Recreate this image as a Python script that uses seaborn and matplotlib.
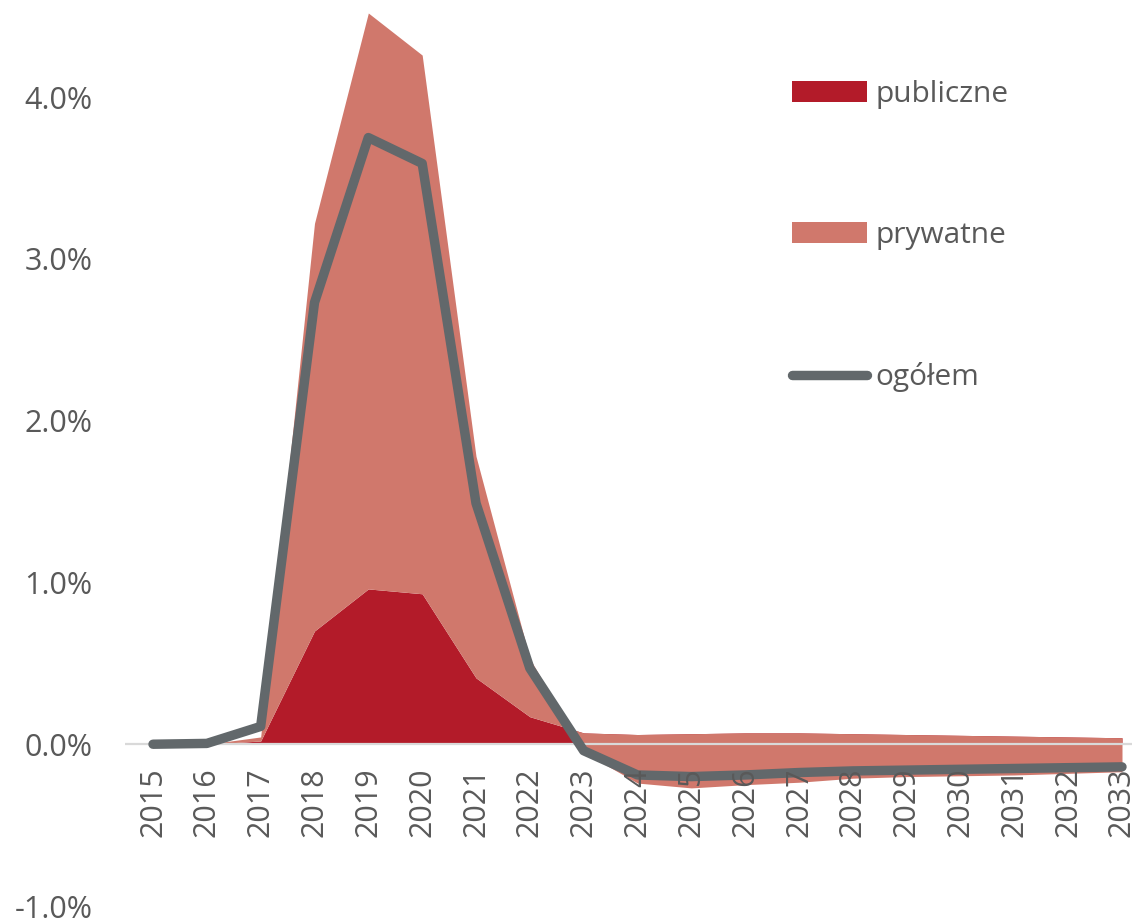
import matplotlib
matplotlib.use("Agg")
import numpy as np
import pandas as pd
import matplotlib.pyplot as plt
import seaborn as sns
from matplotlib.patches import Patch
from matplotlib.lines import Line2D
from matplotlib.ticker import FuncFormatter

# dane (w %)
years = list(range(2015, 2034))
publiczne = [0.0, 0.0, 0.02, 0.70, 0.96, 0.93, 0.41, 0.17, 0.07, 0.06,
             0.065, 0.07, 0.07, 0.065, 0.06, 0.055, 0.05, 0.045, 0.04]
prywatne = [0.0, 0.0, 0.025, 2.52, 3.56, 3.33, 1.37, 0.36, -0.12, -0.30,
            -0.335, -0.32, -0.305, -0.275, -0.26, -0.25, -0.24, -0.225, -0.21]
ogolem = [0.0, 0.005, 0.11, 2.73, 3.75, 3.59, 1.49, 0.47, -0.04, -0.19,
          -0.20, -0.19, -0.175, -0.165, -0.16, -0.155, -0.15, -0.145, -0.14]
labels = ["publiczne", "prywatne", "ogółem"]

C_PUB = "#B31B29"
C_PRY = "#D0786C"
C_LINE = "#62686B"
C_TEXT = "#595959"

df = pd.DataFrame({"rok": years, "publiczne": publiczne,
                   "prywatne": prywatne, "ogolem": ogolem})
df["suma"] = df["publiczne"] + df["prywatne"]

sns.set_style("white")
plt.rcParams["font.family"] = ["Open Sans", "DejaVu Sans"]

W, H = 1132, 919
fig = plt.figure(figsize=(W / 100, H / 100), dpi=100)
ax = fig.add_axes([125 / W, 13 / H, (W - 125) / W, (906 - 13) / H])

# stacked area, as in Excel
ax.fill_between(df["rok"], 0, df["publiczne"], color=C_PUB, lw=0, zorder=1)
ax.fill_between(df["rok"], df["publiczne"], df["suma"], color=C_PRY, lw=0, zorder=2)
ax.axhline(0, color="#D9D9D9", lw=1.6, zorder=3)

sns.lineplot(data=df, x="rok", y="ogolem", color=C_LINE, lw=6.8, ax=ax,
             zorder=4, solid_capstyle="round", solid_joinstyle="round")

ax.set_xlim(2015 - 28 / 53.83, 2033 + 10 / 53.83)
ax.set_ylim(-1.0, 4.52)
ax.set_yticks([-1, 0, 1, 2, 3, 4])
ax.yaxis.set_major_formatter(FuncFormatter(lambda v, p: f"{v:.1f}%"))
ax.set_xticks(years)
ax.set_xticklabels([str(y) for y in years])
ax.spines["bottom"].set_position(("data", 0))
for s in ax.spines.values():
    s.set_visible(False)
ax.tick_params(axis="x", length=0, pad=16.5, labelsize=22, labelcolor=C_TEXT,
               labelrotation=90)
ax.tick_params(axis="y", length=0, pad=23.5, labelsize=22, labelcolor=C_TEXT)
ax.xaxis.set_zorder(5)  # year labels sit over the negative band
ax.set_xlabel("")
ax.set_ylabel("")
ax.grid(False)

handles = [Patch(facecolor=C_PUB, lw=0), Patch(facecolor=C_PRY, lw=0),
           Line2D([], [], color=C_LINE, lw=6.8, solid_capstyle="round")]
ax.legend(handles, labels, loc="upper left",
          bbox_to_anchor=(792 / W, 1 - 80 / H), bbox_transform=fig.transFigure,
          frameon=False, fontsize=21.5, labelcolor=C_TEXT,
          handlelength=2.5, handleheight=0.67, handletextpad=0.3,
          labelspacing=3.75, borderpad=0, borderaxespad=0)

fig.savefig("out.png", dpi=100)
